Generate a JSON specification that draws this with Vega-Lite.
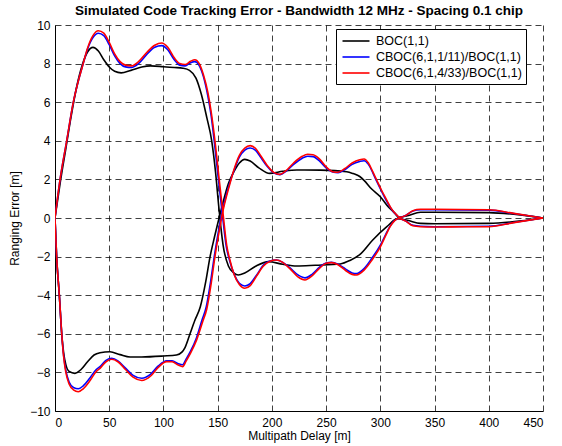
{
  "$schema": "https://vega.github.io/schema/vega-lite/v6.json",
  "width": 488,
  "height": 386,
  "autosize": {"type": "none"},
  "padding": {"left": 55, "top": 25, "right": 19, "bottom": 35},
  "background": "white",
  "title": {"text": "Simulated Code Tracking Error - Bandwidth 12 MHz - Spacing 0.1 chip", "font": "Liberation Sans", "fontSize": 13.5, "fontWeight": "bold", "color": "#000", "anchor": "middle", "baseline": "bottom", "offset": 6, "dy": 18},
  "data": {"values": [
{"s":"B","b":"u","x":0,"y":0},{"s":"B","b":"u","x":5,"y":1.9},{"s":"B","b":"u","x":10,"y":3.6},{"s":"B","b":"u","x":15,"y":5.3},{"s":"B","b":"u","x":20,"y":6.8},{"s":"B","b":"u","x":25,"y":7.9},{"s":"B","b":"u","x":30,"y":8.6},{"s":"B","b":"u","x":35,"y":8.84},{"s":"B","b":"u","x":40,"y":8.65},{"s":"B","b":"u","x":45,"y":8.2},{"s":"B","b":"u","x":50,"y":7.82},{"s":"B","b":"u","x":55,"y":7.6},{"s":"B","b":"u","x":61,"y":7.52},{"s":"B","b":"u","x":70,"y":7.65},{"s":"B","b":"u","x":80,"y":7.82},{"s":"B","b":"u","x":88,"y":7.88},{"s":"B","b":"u","x":100,"y":7.84},{"s":"B","b":"u","x":110,"y":7.8},{"s":"B","b":"u","x":118,"y":7.76},{"s":"B","b":"u","x":124,"y":7.65},{"s":"B","b":"u","x":130,"y":7.25},{"s":"B","b":"u","x":135,"y":6.4},{"s":"B","b":"u","x":140,"y":5.2},{"s":"B","b":"u","x":144.5,"y":4.0},{"s":"B","b":"u","x":148,"y":2.4},{"s":"B","b":"u","x":151,"y":0.6},{"s":"B","b":"u","x":153,"y":-0.5},{"s":"B","b":"u","x":155,"y":-1.4},{"s":"B","b":"u","x":160,"y":-2.5},{"s":"B","b":"u","x":165,"y":-2.85},{"s":"B","b":"u","x":169,"y":-2.95},{"s":"B","b":"u","x":175,"y":-2.85},{"s":"B","b":"u","x":185,"y":-2.5},{"s":"B","b":"u","x":197,"y":-2.26},{"s":"B","b":"u","x":210,"y":-2.4},{"s":"B","b":"u","x":223,"y":-2.49},{"s":"B","b":"u","x":240,"y":-2.45},{"s":"B","b":"u","x":263,"y":-2.38},{"s":"B","b":"u","x":272,"y":-2.2},{"s":"B","b":"u","x":281,"y":-1.9},{"s":"B","b":"u","x":293,"y":-1.14},{"s":"B","b":"u","x":306,"y":-0.45},{"s":"B","b":"u","x":316,"y":-0.03},{"s":"B","b":"u","x":325,"y":-0.12},{"s":"B","b":"u","x":337,"y":-0.28},{"s":"B","b":"u","x":350,"y":-0.3},{"s":"B","b":"u","x":400,"y":-0.28},{"s":"B","b":"u","x":430,"y":-0.15},{"s":"B","b":"u","x":450,"y":0},
{"s":"B","b":"l","x":0,"y":0},{"s":"B","b":"l","x":1.5,"y":-2},{"s":"B","b":"l","x":4,"y":-4},{"s":"B","b":"l","x":6.2,"y":-6},{"s":"B","b":"l","x":8,"y":-7},{"s":"B","b":"l","x":10,"y":-7.6},{"s":"B","b":"l","x":13,"y":-7.95},{"s":"B","b":"l","x":18.4,"y":-8.05},{"s":"B","b":"l","x":24,"y":-7.85},{"s":"B","b":"l","x":30,"y":-7.45},{"s":"B","b":"l","x":36,"y":-7.1},{"s":"B","b":"l","x":41.5,"y":-6.98},{"s":"B","b":"l","x":50.7,"y":-6.93},{"s":"B","b":"l","x":60,"y":-7.08},{"s":"B","b":"l","x":69.2,"y":-7.2},{"s":"B","b":"l","x":80,"y":-7.2},{"s":"B","b":"l","x":100,"y":-7.15},{"s":"B","b":"l","x":112,"y":-7.1},{"s":"B","b":"l","x":117,"y":-6.95},{"s":"B","b":"l","x":120,"y":-6.7},{"s":"B","b":"l","x":124.5,"y":-6.0},{"s":"B","b":"l","x":129,"y":-5.3},{"s":"B","b":"l","x":134,"y":-4.6},{"s":"B","b":"l","x":139,"y":-3.3},{"s":"B","b":"l","x":143,"y":-2.0},{"s":"B","b":"l","x":147,"y":-1.0},{"s":"B","b":"l","x":150,"y":-0.3},{"s":"B","b":"l","x":154,"y":0.6},{"s":"B","b":"l","x":160,"y":1.8},{"s":"B","b":"l","x":165,"y":2.4},{"s":"B","b":"l","x":170,"y":2.85},{"s":"B","b":"l","x":175,"y":3.04},{"s":"B","b":"l","x":180,"y":2.95},{"s":"B","b":"l","x":188,"y":2.6},{"s":"B","b":"l","x":198,"y":2.31},{"s":"B","b":"l","x":210,"y":2.42},{"s":"B","b":"l","x":223,"y":2.49},{"s":"B","b":"l","x":245,"y":2.48},{"s":"B","b":"l","x":269,"y":2.4},{"s":"B","b":"l","x":275,"y":2.3},{"s":"B","b":"l","x":281,"y":2.15},{"s":"B","b":"l","x":285,"y":1.95},{"s":"B","b":"l","x":292,"y":1.5},{"s":"B","b":"l","x":300,"y":1.1},{"s":"B","b":"l","x":307,"y":0.6},{"s":"B","b":"l","x":313.5,"y":0.24},{"s":"B","b":"l","x":317,"y":0.03},{"s":"B","b":"l","x":325,"y":0.12},{"s":"B","b":"l","x":337,"y":0.3},{"s":"B","b":"l","x":350,"y":0.3},{"s":"B","b":"l","x":400,"y":0.28},{"s":"B","b":"l","x":429,"y":0.16},{"s":"B","b":"l","x":450,"y":0},
{"s":"C1","b":"u","x":0,"y":0},{"s":"C1","b":"u","x":4.6,"y":1.97},{"s":"C1","b":"u","x":10.8,"y":4},{"s":"C1","b":"u","x":16.9,"y":6},{"s":"C1","b":"u","x":22,"y":7.2},{"s":"C1","b":"u","x":26,"y":8},{"s":"C1","b":"u","x":30,"y":8.75},{"s":"C1","b":"u","x":35,"y":9.35},{"s":"C1","b":"u","x":40,"y":9.57},{"s":"C1","b":"u","x":45,"y":9.45},{"s":"C1","b":"u","x":50,"y":8.98},{"s":"C1","b":"u","x":55,"y":8.4},{"s":"C1","b":"u","x":60,"y":8.0},{"s":"C1","b":"u","x":65,"y":7.83},{"s":"C1","b":"u","x":70.5,"y":7.8},{"s":"C1","b":"u","x":77,"y":8.0},{"s":"C1","b":"u","x":85,"y":8.5},{"s":"C1","b":"u","x":92,"y":8.85},{"s":"C1","b":"u","x":98.4,"y":8.93},{"s":"C1","b":"u","x":104,"y":8.72},{"s":"C1","b":"u","x":110,"y":8.2},{"s":"C1","b":"u","x":115,"y":7.92},{"s":"C1","b":"u","x":120,"y":7.88},{"s":"C1","b":"u","x":125,"y":8.05},{"s":"C1","b":"u","x":129,"y":8.1},{"s":"C1","b":"u","x":133,"y":7.9},{"s":"C1","b":"u","x":137,"y":7.3},{"s":"C1","b":"u","x":141,"y":6.3},{"s":"C1","b":"u","x":144,"y":5.3},{"s":"C1","b":"u","x":147,"y":3.9},{"s":"C1","b":"u","x":150.5,"y":2.1},{"s":"C1","b":"u","x":154.5,"y":0.1},{"s":"C1","b":"u","x":158,"y":-1.5},{"s":"C1","b":"u","x":161,"y":-2.2},{"s":"C1","b":"u","x":165,"y":-2.88},{"s":"C1","b":"u","x":170,"y":-3.38},{"s":"C1","b":"u","x":175,"y":-3.52},{"s":"C1","b":"u","x":180,"y":-3.4},{"s":"C1","b":"u","x":186,"y":-2.95},{"s":"C1","b":"u","x":192,"y":-2.45},{"s":"C1","b":"u","x":198,"y":-2.23},{"s":"C1","b":"u","x":204,"y":-2.18},{"s":"C1","b":"u","x":210,"y":-2.3},{"s":"C1","b":"u","x":217,"y":-2.6},{"s":"C1","b":"u","x":224,"y":-2.95},{"s":"C1","b":"u","x":230.5,"y":-3.1},{"s":"C1","b":"u","x":237,"y":-2.92},{"s":"C1","b":"u","x":244,"y":-2.55},{"s":"C1","b":"u","x":250,"y":-2.33},{"s":"C1","b":"u","x":255,"y":-2.3},{"s":"C1","b":"u","x":261,"y":-2.4},{"s":"C1","b":"u","x":268,"y":-2.65},{"s":"C1","b":"u","x":274,"y":-2.85},{"s":"C1","b":"u","x":278,"y":-2.88},{"s":"C1","b":"u","x":285,"y":-2.62},{"s":"C1","b":"u","x":292,"y":-2.1},{"s":"C1","b":"u","x":300,"y":-1.4},{"s":"C1","b":"u","x":305,"y":-0.85},{"s":"C1","b":"u","x":309,"y":-0.42},{"s":"C1","b":"u","x":313,"y":-0.14},{"s":"C1","b":"u","x":317,"y":-0.02},{"s":"C1","b":"u","x":323,"y":-0.14},{"s":"C1","b":"u","x":330,"y":-0.38},{"s":"C1","b":"u","x":337,"y":-0.43},{"s":"C1","b":"u","x":350,"y":-0.45},{"s":"C1","b":"u","x":400,"y":-0.43},{"s":"C1","b":"u","x":423,"y":-0.23},{"s":"C1","b":"u","x":450,"y":0},
{"s":"C1","b":"l","x":0,"y":0},{"s":"C1","b":"l","x":1.5,"y":-2},{"s":"C1","b":"l","x":4,"y":-4},{"s":"C1","b":"l","x":6.2,"y":-6},{"s":"C1","b":"l","x":8,"y":-7.15},{"s":"C1","b":"l","x":10,"y":-7.9},{"s":"C1","b":"l","x":13,"y":-8.5},{"s":"C1","b":"l","x":17,"y":-8.78},{"s":"C1","b":"l","x":21.5,"y":-8.85},{"s":"C1","b":"l","x":26,"y":-8.7},{"s":"C1","b":"l","x":32,"y":-8.3},{"s":"C1","b":"l","x":38,"y":-7.85},{"s":"C1","b":"l","x":41.5,"y":-7.7},{"s":"C1","b":"l","x":47,"y":-7.38},{"s":"C1","b":"l","x":52.3,"y":-7.27},{"s":"C1","b":"l","x":58,"y":-7.4},{"s":"C1","b":"l","x":65,"y":-7.78},{"s":"C1","b":"l","x":72,"y":-8.15},{"s":"C1","b":"l","x":80,"y":-8.3},{"s":"C1","b":"l","x":88,"y":-8.1},{"s":"C1","b":"l","x":95,"y":-7.68},{"s":"C1","b":"l","x":103,"y":-7.4},{"s":"C1","b":"l","x":108,"y":-7.4},{"s":"C1","b":"l","x":113.7,"y":-7.55},{"s":"C1","b":"l","x":117.7,"y":-7.6},{"s":"C1","b":"l","x":121,"y":-7.3},{"s":"C1","b":"l","x":125,"y":-6.9},{"s":"C1","b":"l","x":130.5,"y":-6.2},{"s":"C1","b":"l","x":135.5,"y":-5.3},{"s":"C1","b":"l","x":139.5,"y":-4.6},{"s":"C1","b":"l","x":143.5,"y":-3.3},{"s":"C1","b":"l","x":147,"y":-1.95},{"s":"C1","b":"l","x":151.5,"y":-0.45},{"s":"C1","b":"l","x":154.5,"y":0.4},{"s":"C1","b":"l","x":157.5,"y":1.1},{"s":"C1","b":"l","x":161,"y":1.8},{"s":"C1","b":"l","x":165,"y":2.45},{"s":"C1","b":"l","x":170,"y":3.15},{"s":"C1","b":"l","x":175,"y":3.52},{"s":"C1","b":"l","x":180,"y":3.63},{"s":"C1","b":"l","x":185,"y":3.5},{"s":"C1","b":"l","x":190,"y":3.12},{"s":"C1","b":"l","x":196,"y":2.65},{"s":"C1","b":"l","x":202,"y":2.33},{"s":"C1","b":"l","x":207.5,"y":2.25},{"s":"C1","b":"l","x":213,"y":2.42},{"s":"C1","b":"l","x":220,"y":2.78},{"s":"C1","b":"l","x":228,"y":3.1},{"s":"C1","b":"l","x":233,"y":3.2},{"s":"C1","b":"l","x":238,"y":3.18},{"s":"C1","b":"l","x":244,"y":2.95},{"s":"C1","b":"l","x":250,"y":2.6},{"s":"C1","b":"l","x":256,"y":2.38},{"s":"C1","b":"l","x":261,"y":2.35},{"s":"C1","b":"l","x":267,"y":2.5},{"s":"C1","b":"l","x":274,"y":2.78},{"s":"C1","b":"l","x":281,"y":2.93},{"s":"C1","b":"l","x":285,"y":2.97},{"s":"C1","b":"l","x":289,"y":2.78},{"s":"C1","b":"l","x":293,"y":2.35},{"s":"C1","b":"l","x":296.5,"y":1.92},{"s":"C1","b":"l","x":301,"y":1.4},{"s":"C1","b":"l","x":305.5,"y":0.9},{"s":"C1","b":"l","x":310,"y":0.48},{"s":"C1","b":"l","x":315,"y":0.15},{"s":"C1","b":"l","x":318,"y":0.03},{"s":"C1","b":"l","x":323,"y":0.12},{"s":"C1","b":"l","x":330,"y":0.36},{"s":"C1","b":"l","x":337,"y":0.43},{"s":"C1","b":"l","x":350,"y":0.43},{"s":"C1","b":"l","x":400,"y":0.41},{"s":"C1","b":"l","x":423,"y":0.23},{"s":"C1","b":"l","x":450,"y":0},
{"s":"C2","b":"u","x":0,"y":0},{"s":"C2","b":"u","x":4.6,"y":1.97},{"s":"C2","b":"u","x":10.8,"y":4},{"s":"C2","b":"u","x":16.9,"y":6},{"s":"C2","b":"u","x":22,"y":7.2},{"s":"C2","b":"u","x":26,"y":8},{"s":"C2","b":"u","x":30,"y":8.8},{"s":"C2","b":"u","x":35,"y":9.45},{"s":"C2","b":"u","x":40,"y":9.7},{"s":"C2","b":"u","x":45,"y":9.58},{"s":"C2","b":"u","x":50,"y":9.1},{"s":"C2","b":"u","x":55,"y":8.5},{"s":"C2","b":"u","x":60,"y":8.1},{"s":"C2","b":"u","x":65,"y":7.92},{"s":"C2","b":"u","x":70.7,"y":7.88},{"s":"C2","b":"u","x":77,"y":8.1},{"s":"C2","b":"u","x":85,"y":8.6},{"s":"C2","b":"u","x":92,"y":8.95},{"s":"C2","b":"u","x":98.4,"y":9.07},{"s":"C2","b":"u","x":104,"y":8.85},{"s":"C2","b":"u","x":110,"y":8.3},{"s":"C2","b":"u","x":115,"y":8.0},{"s":"C2","b":"u","x":120,"y":7.95},{"s":"C2","b":"u","x":125,"y":8.12},{"s":"C2","b":"u","x":129,"y":8.2},{"s":"C2","b":"u","x":133,"y":8.0},{"s":"C2","b":"u","x":137,"y":7.4},{"s":"C2","b":"u","x":141,"y":6.5},{"s":"C2","b":"u","x":144,"y":5.5},{"s":"C2","b":"u","x":147.5,"y":4.0},{"s":"C2","b":"u","x":151,"y":2.2},{"s":"C2","b":"u","x":155,"y":0.2},{"s":"C2","b":"u","x":158.3,"y":-1.4},{"s":"C2","b":"u","x":161.4,"y":-2.2},{"s":"C2","b":"u","x":165,"y":-2.9},{"s":"C2","b":"u","x":170,"y":-3.45},{"s":"C2","b":"u","x":175,"y":-3.64},{"s":"C2","b":"u","x":180,"y":-3.5},{"s":"C2","b":"u","x":186,"y":-3.0},{"s":"C2","b":"u","x":192,"y":-2.5},{"s":"C2","b":"u","x":198,"y":-2.25},{"s":"C2","b":"u","x":204,"y":-2.18},{"s":"C2","b":"u","x":210,"y":-2.3},{"s":"C2","b":"u","x":217,"y":-2.65},{"s":"C2","b":"u","x":224,"y":-3.05},{"s":"C2","b":"u","x":230.5,"y":-3.21},{"s":"C2","b":"u","x":237,"y":-3.0},{"s":"C2","b":"u","x":244,"y":-2.6},{"s":"C2","b":"u","x":250,"y":-2.35},{"s":"C2","b":"u","x":255,"y":-2.31},{"s":"C2","b":"u","x":261,"y":-2.42},{"s":"C2","b":"u","x":268,"y":-2.72},{"s":"C2","b":"u","x":274,"y":-2.92},{"s":"C2","b":"u","x":278,"y":-2.95},{"s":"C2","b":"u","x":285,"y":-2.7},{"s":"C2","b":"u","x":292,"y":-2.2},{"s":"C2","b":"u","x":300,"y":-1.49},{"s":"C2","b":"u","x":305,"y":-0.9},{"s":"C2","b":"u","x":309,"y":-0.45},{"s":"C2","b":"u","x":313,"y":-0.15},{"s":"C2","b":"u","x":317,"y":-0.02},{"s":"C2","b":"u","x":323,"y":-0.15},{"s":"C2","b":"u","x":330,"y":-0.4},{"s":"C2","b":"u","x":337,"y":-0.45},{"s":"C2","b":"u","x":350,"y":-0.47},{"s":"C2","b":"u","x":380,"y":-0.45},{"s":"C2","b":"u","x":400,"y":-0.45},{"s":"C2","b":"u","x":423,"y":-0.24},{"s":"C2","b":"u","x":450,"y":0},
{"s":"C2","b":"l","x":0,"y":0},{"s":"C2","b":"l","x":1.5,"y":-2},{"s":"C2","b":"l","x":4,"y":-4},{"s":"C2","b":"l","x":6.2,"y":-6},{"s":"C2","b":"l","x":8,"y":-7.2},{"s":"C2","b":"l","x":10,"y":-8.0},{"s":"C2","b":"l","x":13,"y":-8.6},{"s":"C2","b":"l","x":17,"y":-8.9},{"s":"C2","b":"l","x":21.5,"y":-9.0},{"s":"C2","b":"l","x":26,"y":-8.85},{"s":"C2","b":"l","x":32,"y":-8.45},{"s":"C2","b":"l","x":38,"y":-7.95},{"s":"C2","b":"l","x":41.5,"y":-7.79},{"s":"C2","b":"l","x":47,"y":-7.45},{"s":"C2","b":"l","x":52.3,"y":-7.32},{"s":"C2","b":"l","x":58,"y":-7.45},{"s":"C2","b":"l","x":65,"y":-7.85},{"s":"C2","b":"l","x":72,"y":-8.25},{"s":"C2","b":"l","x":80,"y":-8.42},{"s":"C2","b":"l","x":88,"y":-8.2},{"s":"C2","b":"l","x":95,"y":-7.75},{"s":"C2","b":"l","x":103,"y":-7.44},{"s":"C2","b":"l","x":108,"y":-7.45},{"s":"C2","b":"l","x":113.7,"y":-7.62},{"s":"C2","b":"l","x":117.7,"y":-7.7},{"s":"C2","b":"l","x":121,"y":-7.4},{"s":"C2","b":"l","x":125,"y":-7.0},{"s":"C2","b":"l","x":130.7,"y":-6.3},{"s":"C2","b":"l","x":136,"y":-5.4},{"s":"C2","b":"l","x":140,"y":-4.7},{"s":"C2","b":"l","x":144,"y":-3.4},{"s":"C2","b":"l","x":147.5,"y":-2.0},{"s":"C2","b":"l","x":152,"y":-0.5},{"s":"C2","b":"l","x":155,"y":0.4},{"s":"C2","b":"l","x":158,"y":1.1},{"s":"C2","b":"l","x":161.4,"y":1.8},{"s":"C2","b":"l","x":165,"y":2.5},{"s":"C2","b":"l","x":170,"y":3.25},{"s":"C2","b":"l","x":175,"y":3.62},{"s":"C2","b":"l","x":180,"y":3.75},{"s":"C2","b":"l","x":185,"y":3.6},{"s":"C2","b":"l","x":190,"y":3.2},{"s":"C2","b":"l","x":196,"y":2.7},{"s":"C2","b":"l","x":202,"y":2.35},{"s":"C2","b":"l","x":207.5,"y":2.26},{"s":"C2","b":"l","x":213,"y":2.45},{"s":"C2","b":"l","x":220,"y":2.85},{"s":"C2","b":"l","x":228,"y":3.2},{"s":"C2","b":"l","x":233,"y":3.3},{"s":"C2","b":"l","x":238,"y":3.28},{"s":"C2","b":"l","x":244,"y":3.05},{"s":"C2","b":"l","x":250,"y":2.65},{"s":"C2","b":"l","x":256,"y":2.4},{"s":"C2","b":"l","x":261,"y":2.37},{"s":"C2","b":"l","x":267,"y":2.55},{"s":"C2","b":"l","x":274,"y":2.85},{"s":"C2","b":"l","x":281,"y":3.02},{"s":"C2","b":"l","x":285,"y":3.06},{"s":"C2","b":"l","x":289,"y":2.85},{"s":"C2","b":"l","x":293,"y":2.4},{"s":"C2","b":"l","x":296.6,"y":1.97},{"s":"C2","b":"l","x":301,"y":1.45},{"s":"C2","b":"l","x":305.9,"y":0.93},{"s":"C2","b":"l","x":310,"y":0.5},{"s":"C2","b":"l","x":315,"y":0.16},{"s":"C2","b":"l","x":318,"y":0.03},{"s":"C2","b":"l","x":323,"y":0.12},{"s":"C2","b":"l","x":330,"y":0.38},{"s":"C2","b":"l","x":337,"y":0.45},{"s":"C2","b":"l","x":350,"y":0.45},{"s":"C2","b":"l","x":400,"y":0.43},{"s":"C2","b":"l","x":423,"y":0.24},{"s":"C2","b":"l","x":450,"y":0}
  ]},
  "mark": {"type": "line", "interpolate": "monotone", "strokeWidth": 1.6, "clip": true},
  "encoding": {
    "x": {"field": "x", "type": "quantitative", "scale": {"domain": [0, 450], "nice": false, "zero": false},
      "axis": {"title": "Multipath Delay [m]", "values": [0,50,100,150,200,250,300,350,400,450], "labelPadding": 6, "titlePadding": 2}},
    "y": {"field": "y", "type": "quantitative", "scale": {"domain": [-10, 10], "nice": false},
      "axis": {"title": "Ranging Error [m]", "values": [-10,-8,-6,-4,-2,0,2,4,6,8,10], "labelPadding": 5, "titlePadding": 8}},
    "color": {"field": "s", "type": "nominal",
      "scale": {"domain": ["B", "C1", "C2"], "range": ["#000000", "#0000ff", "#ff0000"]},
      "legend": {"title": null, "orient": "none", "legendX": 281, "legendY": 4, "direction": "vertical",
        "labelExpr": "datum.value == 'B' ? 'BOC(1,1)' : datum.value == 'C1' ? 'CBOC(6,1,1/11)/BOC(1,1)\u00a0' : 'CBOC(6,1,4/33)/BOC(1,1)\u00a0'",
        "symbolType": "M-2,0H2", "symbolSize": 182, "symbolStrokeWidth": 1.6, "symbolFillColor": "transparent", "symbolOffset": 8,
        "labelFont": "Liberation Sans", "labelFontSize": 12.5, "labelColor": "#000", "labelOffset": 12,
        "strokeColor": "#000", "fillColor": "#fff", "padding": 4, "rowPadding": 1, "cornerRadius": 0}},
    "detail": {"field": "b", "type": "nominal"}
  },
  "config": {
    "view": {"stroke": null},
    "axis": {"domainColor": "#000", "domainWidth": 1, "labelColor": "#000", "labelFont": "Liberation Sans", "labelFontSize": 12,
      "titleFont": "Liberation Sans", "titleFontSize": 12, "titleFontWeight": "normal", "titleColor": "#000",
      "gridColor": "#000", "gridDash": [6, 4], "gridOpacity": 0.75, "gridWidth": 1, "ticks": false}
  }
}
